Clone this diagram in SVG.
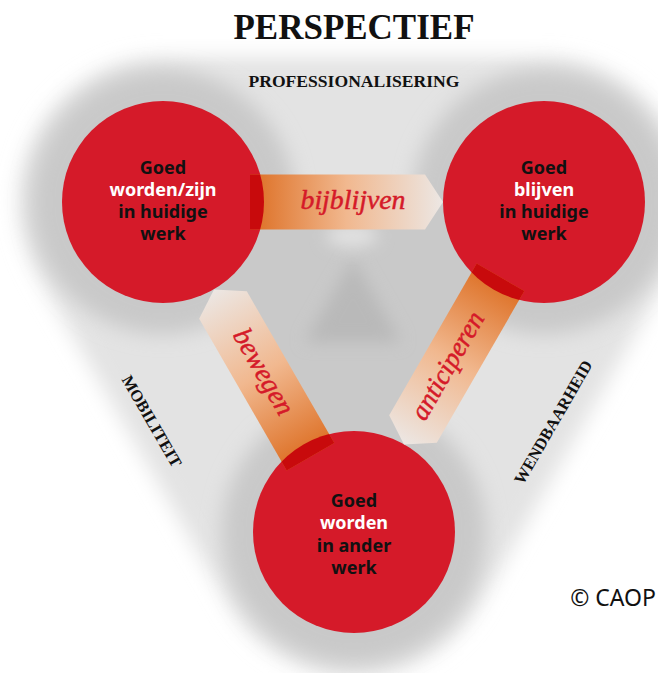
<svg xmlns="http://www.w3.org/2000/svg" width="658" height="673" viewBox="0 0 658 673">
  <defs>
    <style>
      .title { font-family: "Liberation Serif", serif; font-weight: bold; fill: #111; }
      .side { font-family: "Liberation Serif", serif; font-weight: bold; font-size: 16.5px; fill: #111; text-anchor: middle; }
      .node { fill: #d51a29; }
      .lbl { font-family: "Noto Sans", "Open Sans", sans-serif; font-weight: bold; font-size: 18px; text-anchor: middle; fill: #111; }
      .lbl .w { fill: #ffffff; }
      .verb { font-family: "Liberation Serif", serif; font-style: italic; font-size: 27.5px; fill: #d51a29; stroke: #d51a29; stroke-width: 0.5px; text-anchor: middle; }
      .overlap { fill: #c80a0c; }
    </style>
    <filter id="soft" filterUnits="userSpaceOnUse" x="-200" y="-200" width="1100" height="1100">
      <feGaussianBlur stdDeviation="10"/>
    </filter>
    <filter id="soft2" filterUnits="userSpaceOnUse" x="-200" y="-200" width="1100" height="1100">
      <feGaussianBlur stdDeviation="8"/>
    </filter>
    <linearGradient id="flow" gradientUnits="userSpaceOnUse" x1="87" y1="0" x2="280" y2="0">
      <stop offset="0" stop-color="#dd6e22"/>
      <stop offset="0.5" stop-color="#f1b88f"/>
      <stop offset="1" stop-color="#ece7e4"/>
    </linearGradient>
    <!-- arrow body in local axis coordinates: base inside source circle, tip on target circle -->
    <polygon id="arrowShape" points="87,-27.5 262,-27.5 280,0 262,27.5 87,27.5"/>
    <clipPath id="srcCircle" clipPathUnits="userSpaceOnUse">
      <circle cx="0" cy="0" r="101"/>
    </clipPath>
  </defs>

  <rect width="658" height="673" fill="#ffffff"/>

  <!-- soft grey backdrop -->
  <g id="backdrop">
    <path d="M163,202 L544,202 L354,532 Z" fill="#e3e3e3" stroke="#e3e3e3" stroke-width="290" stroke-linejoin="round" filter="url(#soft)"/>
    <g fill="#c9c9c9" filter="url(#soft)">
      <circle cx="163" cy="202" r="132"/>
      <circle cx="544" cy="202" r="132"/>
      <circle cx="354" cy="532" r="132"/>
      <polygon points="163,202 544,202 354,532"/>
    </g>
    <polygon points="353,258 305,342 401,342" fill="#b9b9b9" filter="url(#soft2)"/>
    <ellipse cx="352" cy="236" rx="26" ry="11" fill="#e2e2e2" filter="url(#soft2)"/>
  </g>

  <!-- headings -->
  <text class="title" x="354" y="39" font-size="35" text-anchor="middle" textLength="241" lengthAdjust="spacingAndGlyphs">PERSPECTIEF</text>
  <text class="title" x="354" y="87" font-size="17" text-anchor="middle" textLength="211" lengthAdjust="spacingAndGlyphs">PROFESSIONALISERING</text>
  <text class="side" transform="translate(147,424) rotate(60)" textLength="103" lengthAdjust="spacingAndGlyphs">MOBILITEIT</text>
  <text class="side" transform="translate(558,425) rotate(-60)" textLength="140" lengthAdjust="spacingAndGlyphs">WENDBAARHEID</text>

  <!-- nodes -->
  <g id="node-huidig-zijn">
    <circle class="node" cx="163" cy="202" r="101"/>
    <text class="lbl" x="163" y="174">Goed</text>
    <text class="lbl" x="163" y="196"><tspan class="w">worden/zijn</tspan></text>
    <text class="lbl" x="163" y="218">in huidige</text>
    <text class="lbl" x="163" y="240">werk</text>
  </g>
  <g id="node-huidig-blijven">
    <circle class="node" cx="544" cy="202" r="101"/>
    <text class="lbl" x="544" y="174">Goed</text>
    <text class="lbl" x="544" y="196"><tspan class="w">blijven</tspan></text>
    <text class="lbl" x="544" y="218">in huidige</text>
    <text class="lbl" x="544" y="240">werk</text>
  </g>
  <g id="node-ander-werk">
    <circle class="node" cx="354" cy="532" r="101"/>
    <text class="lbl" x="354" y="507">Goed</text>
    <text class="lbl" x="354" y="529"><tspan class="w">worden</tspan></text>
    <text class="lbl" x="354" y="552">in ander</text>
    <text class="lbl" x="354" y="574">werk</text>
  </g>

  <!-- connectors -->
  <g id="connectors">
    <g id="bijblijven" transform="translate(163,202)">
      <use href="#arrowShape" fill="url(#flow)"/>
      <use href="#arrowShape" class="overlap" clip-path="url(#srcCircle)"/>
      <text class="verb" x="190" y="7" textLength="105" lengthAdjust="spacingAndGlyphs">bijblijven</text>
    </g>
    <g id="bewegen" transform="translate(354,532) rotate(-120)">
      <use href="#arrowShape" fill="url(#flow)"/>
      <use href="#arrowShape" class="overlap" clip-path="url(#srcCircle)"/>
      <text class="verb" transform="translate(184,0) rotate(180)" x="0" y="7" textLength="95" lengthAdjust="spacingAndGlyphs">bewegen</text>
    </g>
    <g id="anticiperen" transform="translate(544,202) rotate(120)">
      <use href="#arrowShape" fill="url(#flow)"/>
      <use href="#arrowShape" class="overlap" clip-path="url(#srcCircle)"/>
      <text class="verb" transform="translate(190,0) rotate(180)" x="0" y="7" textLength="120" lengthAdjust="spacingAndGlyphs">anticiperen</text>
    </g>
  </g>

  <text x="656" y="606" text-anchor="end" font-family="Noto Sans, Open Sans, sans-serif" font-size="23" fill="#111">© CAOP</text>
</svg>
